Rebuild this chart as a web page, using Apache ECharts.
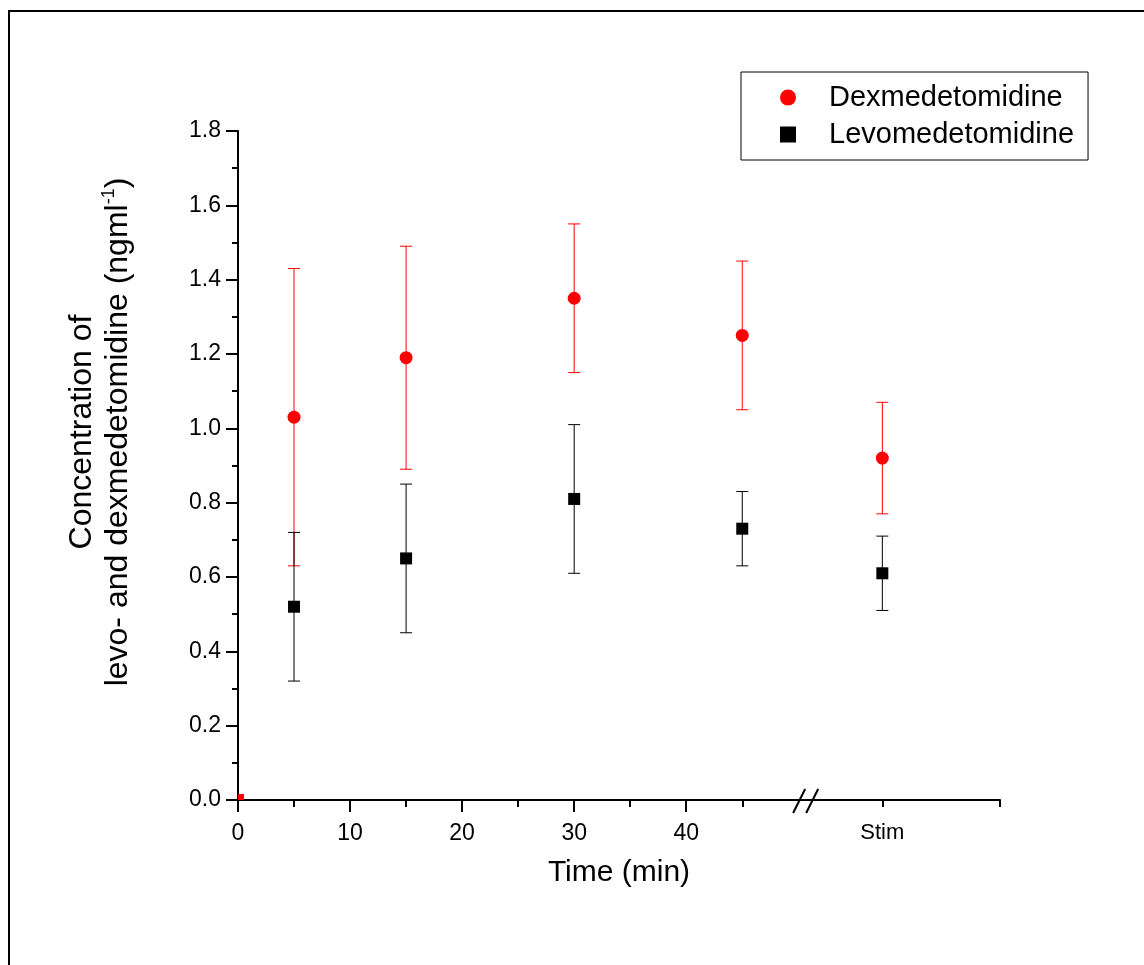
<!DOCTYPE html>
<html>
<head>
<meta charset="utf-8">
<script src="https://cdn.jsdelivr.net/npm/echarts@6/dist/echarts.min.js"></script>
<style>
html,body{margin:0;padding:0;background:#fff;}
#chart{width:1144px;height:965px;}
</style>
</head>
<body>
<div id="chart"></div>
<script>
// ---- data ----
const timeLabels = ['5', '15', '30', '45', 'Stim'];
const timeX = [5, 15, 30, 45, 57.5];          // x positions (Stim placed after axis break)
const dexMean = [1.03, 1.19, 1.35, 1.25, 0.92];
const dexErr  = [0.40, 0.30, 0.20, 0.20, 0.15];
const levoMean = [0.52, 0.65, 0.81, 0.73, 0.61];
const levoErr  = [0.20, 0.20, 0.20, 0.10, 0.10];
const majorTicksX = [0, 10, 20, 30, 40];
const minorTicksX = [5, 15, 25, 35, 45, 57.5, 68];
const stimX = 57.5;
const breakX = 50.7;

const FONT = "'Liberation Sans', Arial, sans-serif";

const dexPts = timeX.map((x, i) => [x, dexMean[i]]);
const levoPts = timeX.map((x, i) => [x, levoMean[i]]);
const dexBars = timeX.map((x, i) => [x, dexMean[i] - dexErr[i], dexMean[i] + dexErr[i]]);
const levoBars = timeX.map((x, i) => [x, levoMean[i] - levoErr[i], levoMean[i] + levoErr[i]]);

function errRender(color) {
  return function (params, api) {
    const x = api.value(0);
    const lo = api.coord([x, api.value(1)]);
    const hi = api.coord([x, api.value(2)]);
    const hw = 6;
    const st = { stroke: color, lineWidth: 1 };
    return {
      type: 'group',
      children: [
        { type: 'line', shape: { x1: lo[0], y1: lo[1], x2: hi[0], y2: hi[1] }, style: st },
        { type: 'line', shape: { x1: lo[0] - hw, y1: lo[1], x2: lo[0] + hw, y2: lo[1] }, style: st },
        { type: 'line', shape: { x1: hi[0] - hw, y1: hi[1], x2: hi[0] + hw, y2: hi[1] }, style: st }
      ]
    };
  };
}

const chart = echarts.init(document.getElementById('chart'), null, { renderer: 'canvas' });
const option = {
  backgroundColor: '#fff',
  animation: false,
  textStyle: { fontFamily: FONT },
  grid: { left: 238, top: 131, width: 762, height: 669, containLabel: false },
  legend: {
    left: 741, top: 72,
    orient: 'vertical',
    borderColor: '#000', borderWidth: 1,
    padding: [11, 14, 11, 39],
    itemWidth: 72, itemHeight: 16, itemGap: 8,
    symbolKeepAspect: true,
    textStyle: { fontSize: 29, color: '#000', fontFamily: FONT },
    data: [
      { name: 'Dexmedetomidine', icon: 'circle', itemStyle: { color: '#ff0000', opacity: 1 } },
      { name: 'Levomedetomidine', icon: 'path://M0 0H10V10H0Z', itemStyle: { color: '#000000', opacity: 1 } }
    ]
  },
  xAxis: [
    {
      type: 'value', min: 0, max: 68, position: 'bottom',
      name: 'Time (min)', nameLocation: 'middle', nameGap: 58,
      nameTextStyle: { fontSize: 30, color: '#000', fontFamily: FONT },
      axisLine: { show: true, onZero: false, lineStyle: { color: '#000', width: 2 } },
      axisTick: { show: true, inside: false, length: 12, lineStyle: { color: '#000', width: 2 }, customValues: majorTicksX },
      axisLabel: { show: true, margin: 22, fontSize: 23, color: '#000', fontFamily: FONT, customValues: majorTicksX },
      splitLine: { show: false }
    },
    {
      type: 'value', min: 0, max: 68, position: 'bottom', gridIndex: 0,
      axisLine: { show: false, onZero: false },
      axisTick: { show: true, inside: false, length: 7, lineStyle: { color: '#000', width: 2 }, customValues: minorTicksX },
      axisLabel: { show: true, margin: 22, fontSize: 22, color: '#000', fontFamily: FONT, customValues: [stimX],
        formatter: function (v) { return Math.abs(v - stimX) < 0.01 ? 'Stim' : ''; } },
      splitLine: { show: false }
    }
  ],
  yAxis: {
    type: 'value', min: 0, max: 1.8, interval: 0.2,
    axisLine: { show: true, onZero: false, lineStyle: { color: '#000', width: 2 } },
    axisTick: { show: true, inside: false, length: 12, lineStyle: { color: '#000', width: 2 } },
    minorTick: { show: true, splitNumber: 2, length: 6, lineStyle: { color: '#000', width: 2 } },
    axisLabel: { margin: 17, fontSize: 23, color: '#000', fontFamily: FONT, formatter: v => v.toFixed(1) },
    splitLine: { show: false }
  },
  graphic: [
    { type: 'line', shape: { x1: 9, y1: 11, x2: 1144, y2: 11 }, style: { stroke: '#000', lineWidth: 2 } },
    { type: 'line', shape: { x1: 9, y1: 10, x2: 9, y2: 965 }, style: { stroke: '#000', lineWidth: 2 } },
    {
      type: 'text', x: 100, y: 432, rotation: Math.PI / 2,
      style: {
        text: '{a|Concentration of}\n{a|levo- and dexmedetomidine (ngml}{s|-1}{a|)}',
        align: 'center', verticalAlign: 'middle', fill: '#000',
        rich: {
          a: { fontSize: 32, fontFamily: FONT, lineHeight: 36, fill: '#000' },
          s: { fontSize: 18, fontFamily: FONT, lineHeight: 36, verticalAlign: 'top', padding: [0, 0, 16, 0], fill: '#000' }
        }
      }
    }
  ],
  series: [
    {
      name: 'DexErr', type: 'custom', xAxisIndex: 0, renderItem: errRender('#ff0000'),
      data: dexBars, z: 2, silent: true, encode: { x: 0, y: [1, 2] }
    },
    {
      name: 'LevoErr', type: 'custom', xAxisIndex: 0, renderItem: errRender('#000000'),
      data: levoBars, z: 2, silent: true, encode: { x: 0, y: [1, 2] }
    },
    {
      name: 'Dexmedetomidine', type: 'scatter', xAxisIndex: 0, symbol: 'circle', symbolSize: 13,
      itemStyle: { color: '#ff0000', opacity: 1 }, data: dexPts, z: 3
    },
    {
      name: 'Levomedetomidine', type: 'scatter', xAxisIndex: 0, symbol: 'rect', symbolSize: 12,
      itemStyle: { color: '#000000', opacity: 1 }, data: levoPts, z: 3
    },
    {
      name: 'origin', type: 'scatter', xAxisIndex: 0, symbol: 'rect', symbolSize: 6, symbolOffset: [3, -3],
      itemStyle: { color: '#ff0000', opacity: 1 }, data: [[0, 0]], z: 1
    },
    {
      name: 'break', type: 'custom', xAxisIndex: 0, silent: true, z: 5,
      data: [[breakX, 0]],
      renderItem: function (params, api) {
        const p = api.coord([api.value(0), api.value(1)]);
        const st = { stroke: '#000', lineWidth: 2 };
        return {
          type: 'group',
          children: [
            { type: 'line', shape: { x1: p[0] - 13, y1: p[1] + 13, x2: p[0] - 1, y2: p[1] - 11 }, style: st },
            { type: 'line', shape: { x1: p[0], y1: p[1] + 13, x2: p[0] + 12, y2: p[1] - 11 }, style: st }
          ]
        };
      }
    }
  ]
};
chart.setOption(option);
</script>
</body>
</html>
